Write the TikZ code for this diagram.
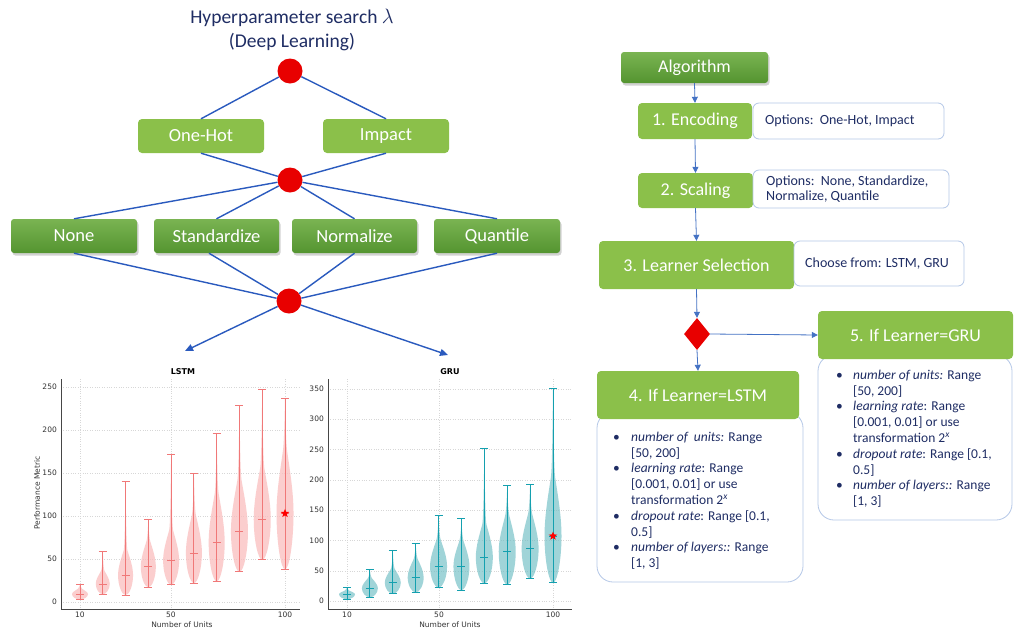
\documentclass[tikz,border=0pt]{standalone}
\usepackage{fontspec}
\setmainfont{Carlito}
\newfontfamily\plotfont{DejaVu Sans}
\usetikzlibrary{shapes.geometric,arrows.meta,shadows}
\definecolor{lgreen}{RGB}{139,192,74}
\definecolor{dgtop}{RGB}{122,180,82}
\definecolor{dgbot}{RGB}{84,148,48}
\definecolor{navy}{RGB}{31,45,100}
\definecolor{lineblue}{RGB}{42,90,190}
\definecolor{flowblue}{RGB}{68,114,196}
\definecolor{lborder}{RGB}{180,199,231}
\definecolor{cred}{RGB}{232,0,0}
\definecolor{lstmfill}{RGB}{250,190,190}
\definecolor{lstmline}{RGB}{240,120,120}
\definecolor{grufill}{RGB}{110,190,196}
\definecolor{gruline}{RGB}{20,160,175}
\definecolor{gridgray}{RGB}{215,215,215}
\definecolor{spinecol}{RGB}{70,70,70}
% #1 x, #2 y of min, #3 y of median, #4 y of max (pixels, y down), #5 half width, #6 style
\newcommand\violinshape[6]{%
 \pgfmathsetmacro\vlow{#2-#3}%
 \pgfmathsetmacro\vup{#3-#4}%
 \pgfmathsetmacro\vk{min(0.7*\vlow,0.3*\vup)}%
 \path[#6] (#1,#2) .. controls ({#1+0.5*#5},#2) and ({#1+#5},{#3+0.5*\vlow}) .. ({#1+#5},#3)
  .. controls ({#1+#5},{#3-0.6*\vk}) and ({#1+0.6*#5},{#3-1.2*\vk}) .. ({#1+0.25*#5},{#3-1.8*\vk})
  .. controls ({#1+0.08*#5},{#3-2.1*\vk}) and ({#1+0.03*#5},{#4+0.2*(#3-1.8*\vk-#4)}) .. (#1,#4)
  .. controls ({#1-0.03*#5},{#4+0.2*(#3-1.8*\vk-#4)}) and ({#1-0.08*#5},{#3-2.1*\vk}) .. ({#1-0.25*#5},{#3-1.8*\vk})
  .. controls ({#1-0.6*#5},{#3-1.2*\vk}) and ({#1-#5},{#3-0.6*\vk}) .. ({#1-#5},#3)
  .. controls ({#1-#5},{#3+0.5*\vlow}) and ({#1-0.5*#5},#2) .. (#1,#2) -- cycle;}
\newcommand\violinlines[5]{%
 \draw[#5] (#1,#2) -- (#1,#4);
 \draw[#5] ({#1-4},#2) -- ({#1+4},#2);
 \draw[#5] ({#1-4},#3) -- ({#1+4},#3);
 \draw[#5] ({#1-4},#4) -- ({#1+4},#4);}
\tikzset{
 lbox/.style={rectangle, rounded corners=4pt, fill=lgreen, text=white, inner sep=0},
 dbox/.style={rectangle, rounded corners=3pt, top color=dgtop, bottom color=dgbot, text=white, inner sep=0,
   drop shadow={opacity=0.35, shadow xshift=1.5pt, shadow yshift=-2.5pt}},
 reddot/.style={circle, fill=cred, minimum size=25pt, inner sep=0},
 connect/.style={lineblue, line width=1.4pt},
 flowarrow/.style={flowblue, line width=0.8pt, -{Triangle[length=6pt,width=6pt]}},
 optbox/.style={rectangle, rounded corners=6pt, draw=lborder, line width=0.8pt, fill=white, inner sep=0},
 listbox/.style={rectangle, rounded corners=16pt, draw=lborder, line width=0.8pt, fill=white, inner sep=0},
 navytext/.style={text=navy, inner sep=0, align=left},
 plotgrid/.style={gridgray, line width=0.4pt, dotted},
 spineline/.style={spinecol, line width=0.7pt},
 ticklab/.style={font=\plotfont\fontsize{7.5}{9}\selectfont, text=black!80, inner sep=1pt},
 leftfont/.style={font=\fontsize{18.5}{21}\selectfont},
 flowfont/.style={font=\fontsize{18}{21}\selectfont},
}
\begin{document}
\begin{tikzpicture}[x=1pt,y=-1pt]
\useasboundingbox[fill=white] (0,0) rectangle (1015,630);

% ---------- left tree ----------
\node[text=navy, align=center, font=\fontsize{19.5}{24}\selectfont] (title) at (292,30) {Hyperparameter search $\lambda$\\(Deep Learning)};
\node[reddot] (c1) at (290,71) {};
\node[reddot] (c2) at (290,180) {};
\node[reddot] (c3) at (289,301) {};
\node[lbox, leftfont, minimum width=126pt, minimum height=34pt] (onehot) at (201,136) {One-Hot};
\node[lbox, leftfont, minimum width=126pt, minimum height=34pt] (impact) at (386,136) {Impact};
\node[dbox, leftfont, minimum width=126pt, minimum height=34pt] (none) at (74,236) {None};
\node[dbox, leftfont, minimum width=125pt, minimum height=34pt] (stand) at (216.5,236) {Standardize};
\node[dbox, leftfont, minimum width=125pt, minimum height=34pt] (norm) at (354.5,236) {Normalize};
\node[dbox, leftfont, minimum width=126pt, minimum height=34pt] (quant) at (497,236) {Quantile};
\coordinate (lstmtip) at (185,351);
\coordinate (grutip) at (448,355);

\draw[connect] (c1) -- (onehot.north);
\draw[connect] (c1) -- (impact.north);
\draw[connect] (onehot.south) -- (c2);
\draw[connect] (impact.south) -- (c2);
\draw[connect] (c2) -- (none.north);
\draw[connect] (c2) -- (stand.north);
\draw[connect] (c2) -- (norm.north);
\draw[connect] (c2) -- (quant.north);
\draw[connect] (none.south) -- (c3);
\draw[connect] ([xshift=-7.5pt]stand.south) -- (c3);
\draw[connect] (norm.south) -- (c3);
\draw[connect] (quant.south) -- (c3);
\draw[connect, -{Triangle[length=8pt,width=7pt]}] (c3) -- (lstmtip);
\draw[connect, -{Triangle[length=8pt,width=7pt]}] (c3) -- (grutip);

% ---------- LSTM plot ----------
\foreach \v in {0,50,...,250} {
  \pgfmathsetmacro\yy{602-0.86*\v}
  \draw[plotgrid] (61,\yy) -- (300,\yy);
  \node[ticklab, anchor=east] (lyt\v) at (58,\yy) {\v};
}
\foreach \u/\xx in {10/80,50/171,100/285} {
  \draw[plotgrid] (\xx,379) -- (\xx,609);
  \node[ticklab, anchor=north] (lxt\u) at (\xx,611) {\u};
}
\draw[spineline] (61,379) -- (61,609) -- (300,609);
\foreach \u/\mn/\md/\mx/\w in {10/3/9/21/8, 20/9/21/59/7, 30/8/31/140/7.5, 40/17/41/96/7.5, 50/20/48/171/8, 60/22/57/149/8, 70/24/69/196/8, 80/35/82/229/8.5, 90/49/96/247/8.5, 100/38/103/237/8.5} {
  \pgfmathsetmacro\vx{80+(\u-10)*2.278}
  \pgfmathsetmacro\ya{602-0.86*\mn}
  \pgfmathsetmacro\yb{602-0.86*\md}
  \pgfmathsetmacro\yc{602-0.86*\mx}
  \violinshape{\vx}{\ya}{\yb}{\yc}{\w}{fill=lstmfill, fill opacity=0.75}
  \violinlines{\vx}{\ya}{\yb}{\yc}{lstmline, line width=0.9pt}
}
\node[star, star points=5, star point ratio=2.3, fill=red, minimum size=9pt, inner sep=0] (lstar) at (285,513.4) {};
\node[font=\plotfont\bfseries\fontsize{8}{9}\selectfont] (lstmtitle) at (183,372) {LSTM};
\node[ticklab] (lstmx) at (182,625) {Number of Units};
\node[ticklab, rotate=90] (lstmy) at (37,493) {Performance Metric};

% ---------- GRU plot ----------
\foreach \v in {0,50,...,350} {
  \pgfmathsetmacro\yy{601-0.606*\v}
  \draw[plotgrid] (328,\yy) -- (572,\yy);
  \node[ticklab, anchor=east] (gyt\v) at (325,\yy) {\v};
}
\foreach \u/\xx in {10/347,50/439,100/553} {
  \draw[plotgrid] (\xx,379) -- (\xx,609);
  \node[ticklab, anchor=north] (gxt\u) at (\xx,611) {\u};
}
\draw[spineline] (328,379) -- (328,609) -- (572,609);
\foreach \u/\mn/\md/\mx/\w in {10/3/11/23/8, 20/6/21/52/8, 30/12/30/83/8, 40/14/39/95/8, 50/22/57/141/8.5, 60/18/57/136/8, 70/29/72/251/8.5, 80/27/82/190/8.5, 90/37/86/192/8.5, 100/30/107/351/8.5} {
  \pgfmathsetmacro\vx{347+(\u-10)*2.289}
  \pgfmathsetmacro\ya{601-0.606*\mn}
  \pgfmathsetmacro\yb{601-0.606*\md}
  \pgfmathsetmacro\yc{601-0.606*\mx}
  \violinshape{\vx}{\ya}{\yb}{\yc}{\w}{fill=grufill, fill opacity=0.65}
  \violinlines{\vx}{\ya}{\yb}{\yc}{gruline, line width=0.9pt}
}
\node[star, star points=5, star point ratio=2.3, fill=red, minimum size=9pt, inner sep=0] (gstar) at (553,536) {};
\node[font=\plotfont\bfseries\fontsize{8}{9}\selectfont] (grutitle) at (450,372) {GRU};
\node[ticklab] (grux) at (450,625) {Number of Units};

% ---------- right flowchart ----------
\node[dbox, flowfont, minimum width=147pt, minimum height=31pt] (algo) at (694.5,67.5) {Algorithm};
\node[lbox, flowfont, minimum width=114pt, minimum height=36pt] (enc) at (695,121) {1. Encoding};
\node[optbox, minimum width=191pt, minimum height=36pt] (opt1) at (848.5,121) {};
\node[navytext, anchor=west, font=\fontsize{14}{15}\selectfont] (opt1t) at (765,121) {Options:\ \ One-Hot, Impact};
\node[lbox, flowfont, minimum width=115pt, minimum height=35pt] (scal) at (695.5,190.5) {2. Scaling};
\node[optbox, minimum width=196pt, minimum height=38pt] (opt2) at (851,189) {};
\node[navytext, anchor=west, font=\fontsize{14}{14.5}\selectfont] (opt2t) at (766,189) {Options:\ \ None, Standardize,\\Normalize, Quantile};
\node[lbox, flowfont, minimum width=195pt, minimum height=48pt] (learn) at (696.5,265) {3. Learner Selection};
\node[optbox, minimum width=170pt, minimum height=45pt] (choose) at (879,263.5) {};
\node[navytext, anchor=west, font=\fontsize{14}{15}\selectfont] (chooset) at (805,263.5) {Choose from: LSTM, GRU};
\node[diamond, fill=cred, minimum width=26pt, minimum height=32pt, inner sep=0] (dia) at (697,334) {};

\node[listbox, minimum width=194pt, minimum height=165pt] (grulist) at (915,437.5) {};
\node[lbox, flowfont, minimum width=195pt, minimum height=48pt] (gru) at (915.5,335) {5. If Learner=GRU};
\node[listbox, minimum width=206pt, minimum height=170pt] (lstmlist) at (700,497) {};
\node[lbox, flowfont, minimum width=202pt, minimum height=48pt] (lstm) at (698,395) {4. If Learner=LSTM};

\node[navytext, anchor=north west, font=\fontsize{13.5}{15.8}\selectfont] (lstmitems) at (613,430) {%
\begin{tabular}{@{}p{18pt}@{}l@{}}
\textbullet & \textit{number of\ \ units:} Range\\
 & [50, 200]\\
\textbullet & \textit{learning rate}: Range\\
 & [0.001, 0.01] or use\\
 & transformation 2\textsuperscript{\textit{x}}\\
\textbullet & \textit{dropout rate}: Range [0.1,\\
 & 0.5]\\
\textbullet & \textit{number of layers::} Range\\
 & [1, 3]
\end{tabular}};
\node[navytext, anchor=north west, font=\fontsize{13.5}{15.8}\selectfont] (gruitems) at (836,368) {%
\begin{tabular}{@{}p{17pt}@{}l@{}}
\textbullet & \textit{number of units:} Range\\
 & [50, 200]\\
\textbullet & \textit{learning rate}: Range\\
 & [0.001, 0.01] or use\\
 & transformation 2\textsuperscript{\textit{x}}\\
\textbullet & \textit{dropout rate}: Range [0.1,\\
 & 0.5]\\
\textbullet & \textit{number of layers::} Range\\
 & [1, 3]
\end{tabular}};

\draw[flowarrow] (algo.south) -- (enc.north);
\draw[flowarrow] (enc.south) -- (scal.north);
\draw[flowarrow] (scal.south) -- (learn.north);
\draw[flowarrow] (learn.south) -- (dia.north);
\draw[flowarrow] (dia.east) -- (gru.west);
\draw[flowarrow] (dia.south) -- (lstm.north);
\end{tikzpicture}
\end{document}
